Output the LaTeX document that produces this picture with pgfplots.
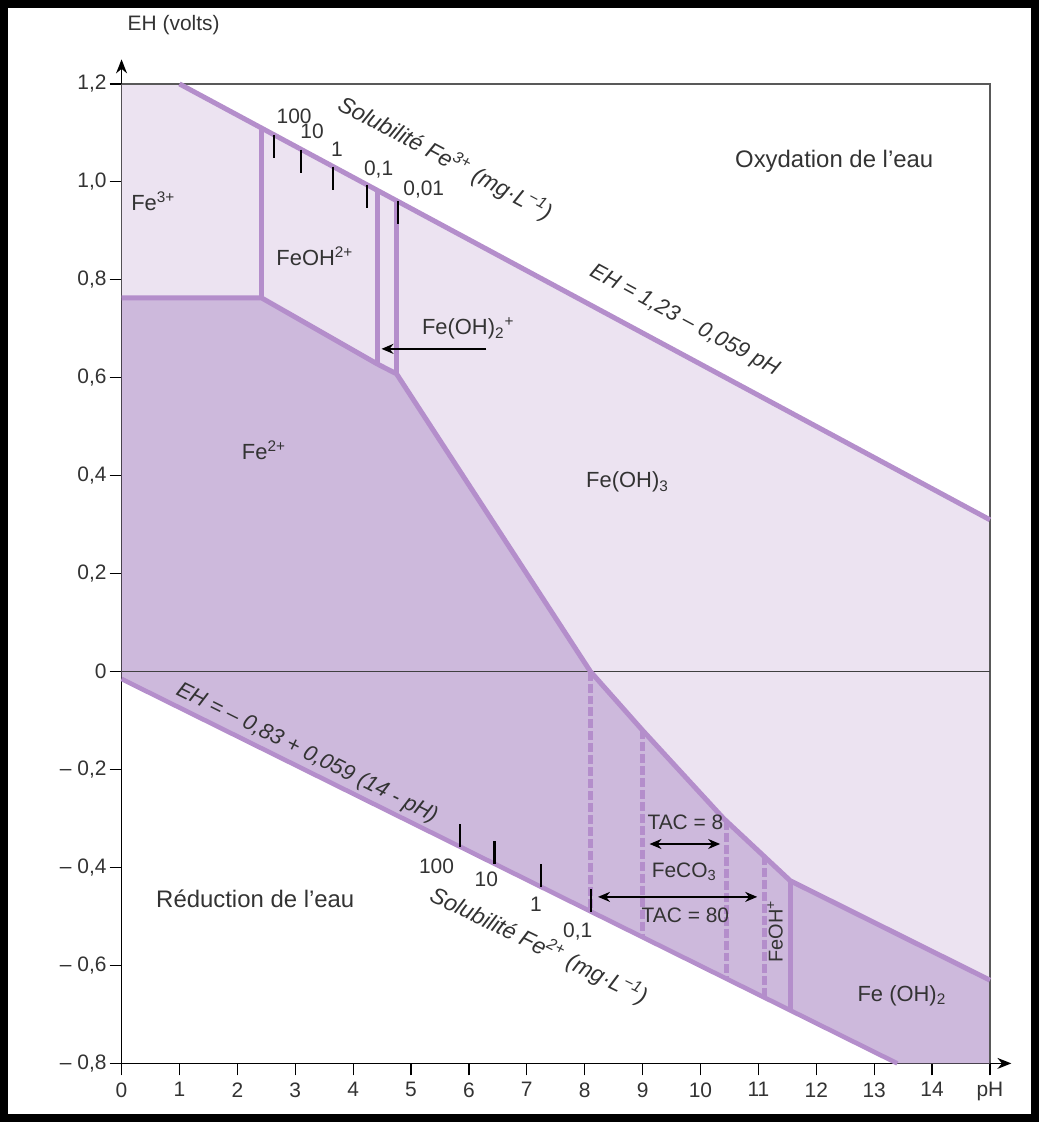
\documentclass[border=0pt]{standalone}
\usepackage{pgfplots}
\pgfplotsset{compat=1.18}
\usetikzlibrary{arrows.meta}
\usepackage{fontspec}
\setmainfont{Liberation Sans}
\definecolor{lightreg}{HTML}{ECE3F1}
\definecolor{darkreg}{HTML}{CDB9DC}
\definecolor{bline}{HTML}{B48ECB}
\definecolor{txt}{HTML}{333333}
\begin{document}
\begin{tikzpicture}
\begin{axis}[
  x=29.05pt, y=245.75pt,
  xmin=0, xmax=15.37, ymin=-0.8, ymax=1.25,
  axis lines=left,
  axis line style={line width=0.8pt, -{Stealth[length=7pt,width=5.5pt]}},
  tick align=outside,
  major tick length=6pt,
  tick style={black, line width=0.6pt},
  xtick={0,1,2,3,4,5,6,7,8,9,10,11,12,13,14,15},
  xticklabels={0,1,2,3,4,5,6,7,8,9,10,11,12,13,14,pH},
  ytick={-0.8,-0.6,-0.4,-0.2,0,0.2,0.4,0.6,0.8,1.0,1.2},
  yticklabels={{-- 0,8},{-- 0,6},{-- 0,4},{-- 0,2},{0},{0,2},{0,4},{0,6},{0,8},{1,0},{1,2}},
  tick label style={font=\fontsize{10.5}{12}\selectfont, text=txt},
  yticklabel style={xshift=2pt},
  clip=false,
]
% regions
\addplot[fill=lightreg, draw=none] coordinates {(0,1.2) (1.0,1.2) (15,0.31) (15,-0.63) (11.55,-0.427) (10.4,-0.30) (9.0,-0.12) (8.1,0) (4.75,0.608) (4.42,0.628) (2.42,0.763) (0,0.763)} -- cycle;
\addplot[fill=darkreg, draw=none] coordinates {(0,0.763) (2.42,0.763) (4.42,0.628) (4.75,0.608) (8.1,0) (9.0,-0.12) (10.4,-0.30) (11.55,-0.427) (15,-0.63) (15,-0.8) (13.4,-0.8) (0,-0.015)} -- cycle;
% frame lines
\addplot[black!65, line width=0.8pt] coordinates {(0,1.2) (15,1.2) (15,-0.8)};
\addplot[black!75, line width=0.6pt] coordinates {(0,0) (15,0)};
% water lines
\addplot[bline, line width=2.5pt] coordinates {(1.0,1.2) (15,0.31)};
\addplot[bline, line width=2.3pt] coordinates {(0,-0.015) (13.4,-0.8)};
% boundaries
\addplot[bline, line width=2.5pt, line join=round] coordinates {(0,0.763) (2.42,0.763) (4.42,0.628) (4.75,0.608) (8.1,0) (9.0,-0.12) (10.4,-0.30) (11.55,-0.427) (15,-0.63)};
\addplot[bline, line width=2.5pt] coordinates {(2.42,0.763) (2.42,1.110)};
\addplot[bline, line width=2.5pt] coordinates {(4.42,0.628) (4.42,0.982)};
\addplot[bline, line width=2.5pt] coordinates {(4.75,0.608) (4.75,0.961)};
\addplot[bline, line width=2.5pt] coordinates {(11.55,-0.427) (11.55,-0.692)};
% dashed
\addplot[bline, line width=2.5pt, dash pattern=on 4.5pt off 1.5pt] coordinates {(8.1,0) (8.1,-0.49)};
\addplot[bline, line width=2.5pt, dash pattern=on 4.5pt off 1.5pt] coordinates {(9.0,-0.12) (9.0,-0.542)};
\addplot[bline, line width=2.5pt, dash pattern=on 4.5pt off 1.5pt] coordinates {(10.45,-0.305) (10.45,-0.627)};
\addplot[bline, line width=2.5pt, dash pattern=on 4.5pt off 1.5pt] coordinates {(11.1,-0.377) (11.1,-0.665)};
% solubility ticks
\addplot[black, line width=1.2pt] coordinates {(2.63,1.096) (2.63,1.049)};
\addplot[black, line width=1.2pt] coordinates {(3.10,1.066) (3.10,1.019)};
\addplot[black, line width=1.2pt] coordinates {(3.65,1.031) (3.65,0.984)};
\addplot[black, line width=1.2pt] coordinates {(4.24,0.994) (4.24,0.947)};
\addplot[black, line width=1.2pt] coordinates {(4.77,0.960) (4.77,0.913)};
\addplot[black, line width=1.2pt] coordinates {(5.85,-0.358) (5.85,-0.311)};
\addplot[black, line width=1.2pt] coordinates {(6.44,-0.392) (6.44,-0.345)};
\addplot[black, line width=1.2pt] coordinates {(7.25,-0.440) (7.25,-0.393)};
\addplot[black, line width=1.2pt] coordinates {(8.11,-0.490) (8.11,-0.443)};
% arrows
\draw[black, line width=1pt, -{Stealth[length=6pt,width=5pt]}] (axis cs:6.30,0.659) -- (axis cs:4.49,0.659);
\draw[black, line width=1pt, {Stealth[length=6pt,width=5pt]}-{Stealth[length=6pt,width=5pt]}] (axis cs:9.12,-0.352) -- (axis cs:10.34,-0.352);
\draw[black, line width=1pt, {Stealth[length=6pt,width=5pt]}-{Stealth[length=6pt,width=5pt]}] (axis cs:8.23,-0.46) -- (axis cs:10.98,-0.46);
% texts
\begin{scope}[every node/.style={text=txt, inner sep=0pt}]
\node[font=\fontsize{10.5}{12}\selectfont] at (axis cs:0.9,1.32) {EH (volts)};
\node[font=\fontsize{11}{13}\selectfont] at (axis cs:0.55,0.96) {Fe\textsuperscript{3+}};
\node[font=\fontsize{11}{13}\selectfont] at (axis cs:3.34,0.848) {FeOH\textsuperscript{2+}};
\node[font=\fontsize{11}{13}\selectfont] at (axis cs:5.99,0.70) {Fe(OH)\textsubscript{2}\textsuperscript{+}};
\node[font=\fontsize{12}{14}\selectfont] at (axis cs:12.31,1.042) {Oxydation de l’eau};
\node[font=\itshape\fontsize{11}{13}\selectfont, rotate=-28.3] at (axis cs:9.72,0.716) {EH = 1,23 – 0,059 pH};
\node[font=\itshape\fontsize{11.5}{13}\selectfont, rotate=-28] at (axis cs:5.59,1.048) {Solubilité Fe\textsuperscript{3+} (mg·L\textsuperscript{−1})};
\node[font=\fontsize{10.5}{12}\selectfont] at (axis cs:2.98,1.133) {100};
\node[font=\fontsize{10.5}{12}\selectfont] at (axis cs:3.29,1.103) {10};
\node[font=\fontsize{10.5}{12}\selectfont] at (axis cs:3.72,1.066) {1};
\node[font=\fontsize{10.5}{12}\selectfont] at (axis cs:4.44,1.025) {0,1};
\node[font=\fontsize{10.5}{12}\selectfont] at (axis cs:5.22,0.985) {0,01};
\node[font=\fontsize{11}{13}\selectfont] at (axis cs:2.46,0.452) {Fe\textsuperscript{2+}};
\node[font=\fontsize{11}{13}\selectfont] at (axis cs:8.74,0.387) {Fe(OH)\textsubscript{3}};
\node[font=\itshape\fontsize{11}{13}\selectfont, rotate=-26.5] at (axis cs:3.20,-0.167) {EH = – 0,83 + 0,059 (14 - pH)};
\node[font=\fontsize{12}{14}\selectfont] at (axis cs:2.31,-0.464) {Réduction de l’eau};
\node[font=\fontsize{10.5}{12}\selectfont] at (axis cs:5.44,-0.397) {100};
\node[font=\fontsize{10.5}{12}\selectfont] at (axis cs:6.30,-0.425) {10};
\node[font=\fontsize{10.5}{12}\selectfont] at (axis cs:7.16,-0.476) {1};
\node[font=\fontsize{10.5}{12}\selectfont] at (axis cs:7.88,-0.531) {0,1};
\node[font=\itshape\fontsize{11.5}{13}\selectfont, rotate=-26] at (axis cs:7.21,-0.56) {Solubilité Fe\textsuperscript{2+} (mg·L\textsuperscript{−1})};
\node[font=\fontsize{10.5}{12}\selectfont] at (axis cs:9.74,-0.307) {TAC = 8};
\node[font=\fontsize{10.5}{12}\selectfont] at (axis cs:9.72,-0.409) {FeCO\textsubscript{3}};
\node[font=\fontsize{10.5}{12}\selectfont] at (axis cs:9.74,-0.498) {TAC = 80};
\node[font=\fontsize{10}{12}\selectfont, rotate=90] at (axis cs:11.29,-0.53) {FeOH\textsuperscript{+}};
\node[font=\fontsize{11}{13}\selectfont] at (axis cs:13.48,-0.661) {Fe (OH)\textsubscript{2}};
\end{scope}
% outer frame
\draw[black, line width=4pt] (axis cs:-2.0308,1.3632) rectangle (axis cs:15.7832,-0.9115);
\end{axis}
\end{tikzpicture}
\end{document}
